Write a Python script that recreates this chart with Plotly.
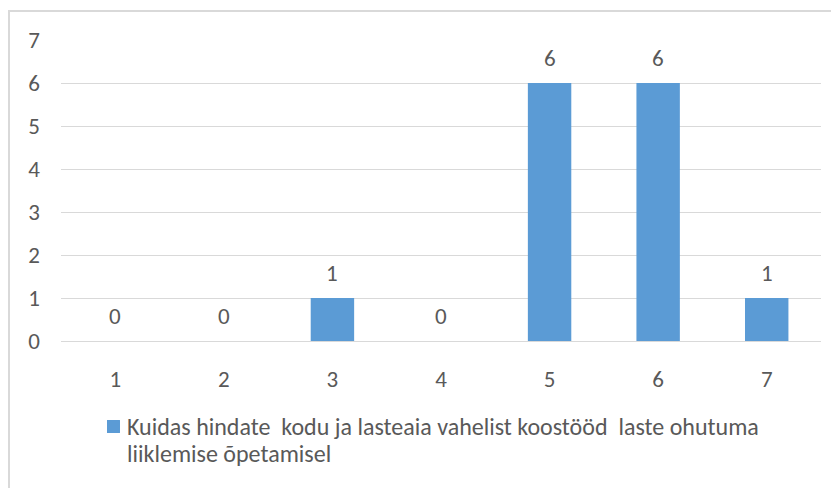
import plotly.graph_objects as go

categories = ['1', '2', '3', '4', '5', '6', '7']
counts = [0, 0, 1, 0, 6, 6, 1]
y_ticks = [0, 1, 2, 3, 4, 5, 6, 7]
series_lines = ['Kuidas hindate  kodu ja lasteaia vahelist koostööd  laste ohutuma',
                'liiklemise õpetamisel']

font_family = 'Carlito, Calibri, Open Sans, sans-serif'
text_grey = '#595959'
bar_blue = '#5B9BD5'

fig = go.Figure()
fig.add_trace(go.Bar(
    x=categories, y=counts, name=' '.join(series_lines),
    marker=dict(color=bar_blue, line=dict(width=0)),
    width=0.4, showlegend=False,
))

# data labels above each bar (x as category index)
for i, v in enumerate(counts):
    fig.add_annotation(x=i, y=v, text=str(v), showarrow=False, yshift=25,
                       font=dict(family=font_family, size=23, color=text_grey))

# hand-made legend so the marker/text spacing matches the excel look
fig.add_shape(type='rect', xref='paper', yref='paper',
              x0=0.0605, x1=0.0776, y0=-0.3056, y1=-0.2625,
              fillcolor=bar_blue, line=dict(width=0))
for k, (line, ypos) in enumerate(zip(series_lines, [-0.2292, -0.3189])):
    fig.add_annotation(xref='paper', yref='paper', x=0.0842, y=ypos,
                       xanchor='left', yanchor='top', text=line, showarrow=False,
                       font=dict(family=font_family, size=24, color=text_grey))

# chart border (only left/top visible in the reference)
fig.add_shape(type='rect', xref='paper', yref='paper',
              x0=-0.0684, x1=1.1, y0=-0.7, y1=1.0963,
              line=dict(color='#D9D9D9', width=2), layer='below')

fig.update_xaxes(type='category', showgrid=False, showline=False, zeroline=False,
                 ticks='', ticklabelstandoff=22,
                 tickfont=dict(family=font_family, size=23, color=text_grey))
fig.update_yaxes(range=[0, 7], tickvals=y_ticks, showgrid=True, gridcolor='#D9D9D9',
                 gridwidth=1, zeroline=True, zerolinecolor='#D9D9D9', zerolinewidth=1,
                 showline=False, ticks='', ticklabelstandoff=20,
                 tickfont=dict(family=font_family, size=23, color=text_grey))

# body of the page has an 8px margin, so offsets are 8px smaller
fig.update_layout(width=839, height=488,
                  margin={'l': 53, 'r': 26, 't': 32, 'b': 155},
                  plot_bgcolor='white', paper_bgcolor='white', showlegend=False)

fig.write_html("out.html")
